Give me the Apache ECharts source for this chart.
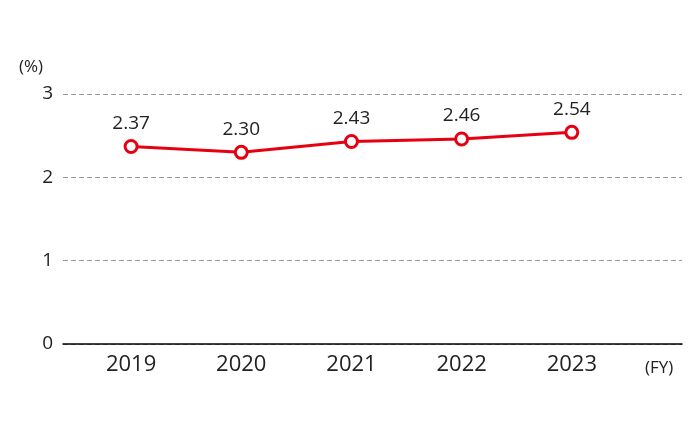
<!DOCTYPE html>
<html>
<head>
<meta charset="utf-8">
<script src="https://cdn.jsdelivr.net/npm/echarts@6/dist/echarts.min.js"></script>
<style>html,body{margin:0;padding:0;background:#fff}#c{width:700px;height:431px}</style>
</head>
<body>
<div id="c"></div>
<script>
var years = [2019, 2020, 2021, 2022, 2023];
var values = [2.37, 2.30, 2.43, 2.46, 2.54];
var yTicks = [0, 1, 2, 3];

var chart = echarts.init(document.getElementById('c'), null, {renderer: 'canvas'});
var font = '"Open Sans", sans-serif';
chart.setOption({
  animation: false,
  grid: {left: 63, right: 18, top: 94, bottom: 87},
  xAxis: {
    type: 'value',
    min: 2018.382,
    max: 2024,
    axisLine: {show: true, lineStyle: {color: '#000', width: 1.5}},
    axisTick: {show: false},
    splitLine: {show: false},
    axisLabel: {
      customValues: years,
      formatter: function (v) { return String(v); },
      fontFamily: font, fontSize: 22, color: '#222', margin: 10
    }
  },
  yAxis: {
    type: 'value',
    min: yTicks[0],
    max: yTicks[yTicks.length - 1],
    interval: 1,
    axisLine: {show: false},
    axisTick: {show: false},
    axisLabel: {fontFamily: font, fontSize: 19, color: '#222', margin: 10, padding: [6, 0, 0, 0]},
    splitLine: {lineStyle: {color: '#999', type: [5, 3], width: 1}}
  },
  graphic: [
    {type: 'text', left: 19, top: 59, style: {text: '(%)', font: '17px ' + font, fill: '#222'}},
    {type: 'text', left: 645, top: 360, style: {text: '(FY)', font: '17px ' + font, fill: '#222'}}
  ],
  series: [{
    type: 'line',
    data: years.map(function (y, i) { return [y, values[i]]; }),
    lineStyle: {color: '#e60012', width: 3},
    symbol: 'circle',
    symbolSize: 12,
    itemStyle: {color: '#fff', borderColor: '#e60012', borderWidth: 3},
    label: {
      show: true, position: 'top', distance: 6,
      formatter: function (p) { return p.value[1].toFixed(2); },
      fontFamily: font, fontSize: 19, color: '#222'
    }
  }]
});
</script>
</body>
</html>
